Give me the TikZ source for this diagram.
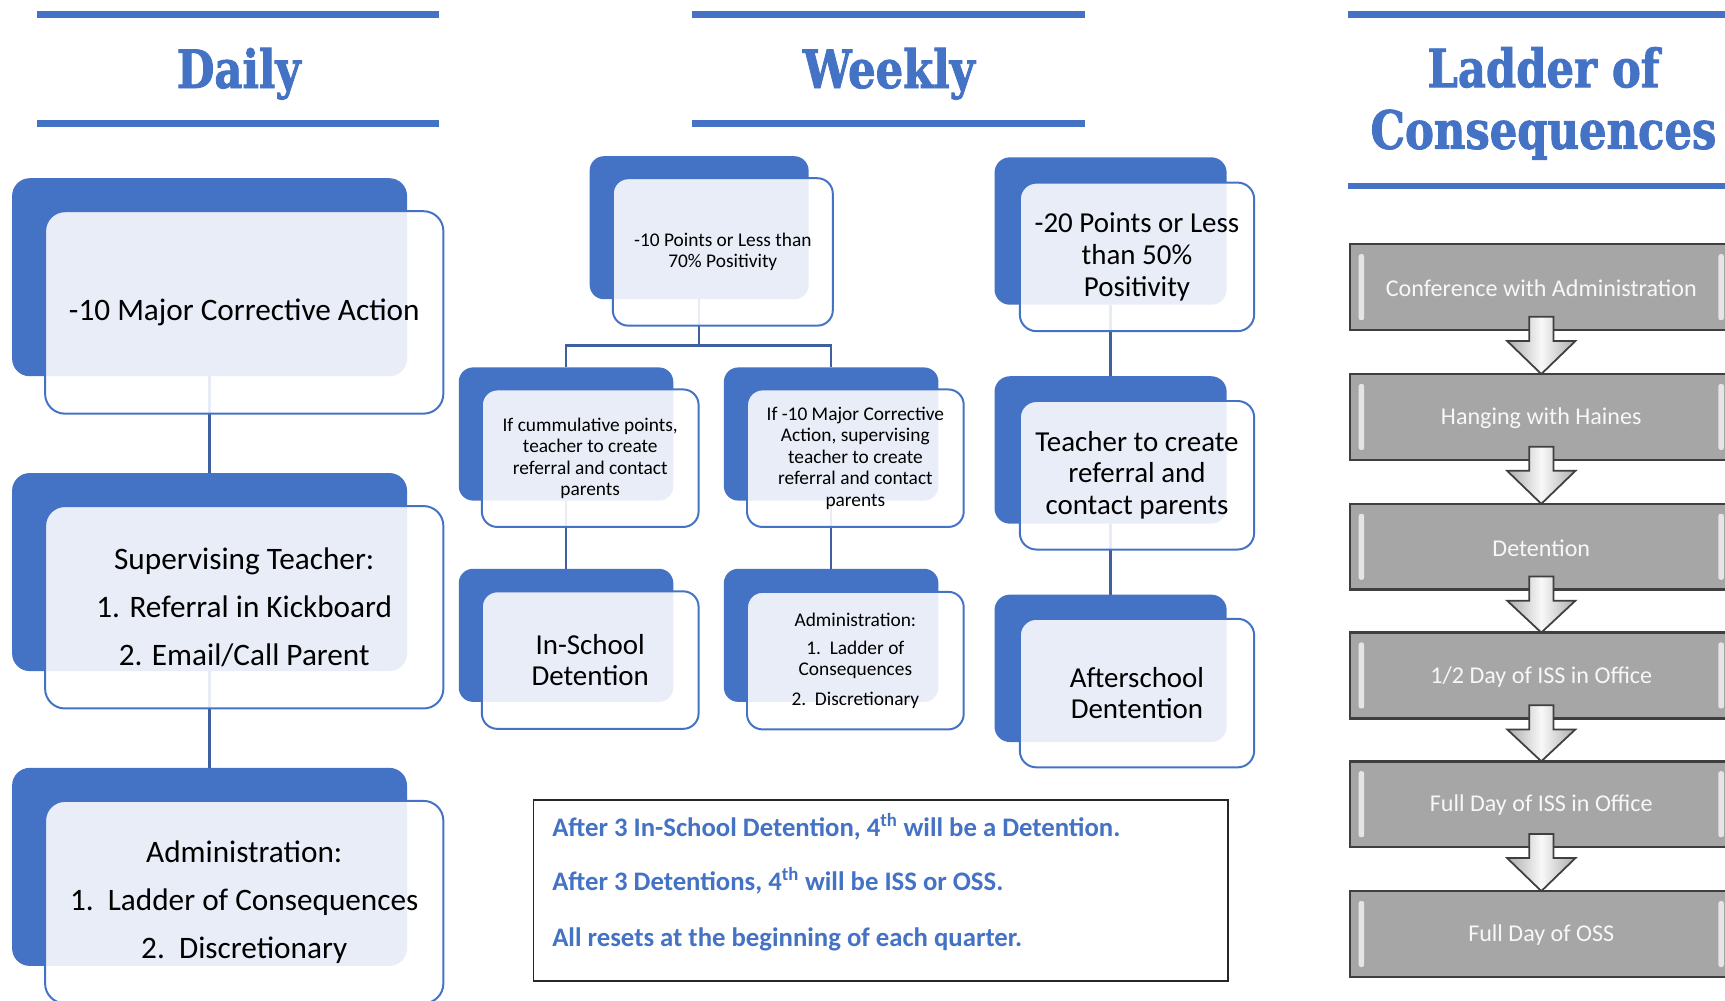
\documentclass[tikz,border=0pt]{standalone}
\usepackage{fontspec}
\setmainfont{Carlito}
\newfontfamily\titlefam[FakeStretch=0.82,FakeBold=1.6]{DejaVu Serif}
\usetikzlibrary{calc}
\definecolor{mblue}{HTML}{4472C4}
\definecolor{conn}{RGB}{62,95,160}
\definecolor{lgray}{HTML}{A6A6A6}
\definecolor{dgray}{HTML}{3F3F3F}
\newcommand\fntTitle{\titlefam\bfseries\fontsize{48pt}{56pt}\selectfont}
\newcommand\fntDaily{\fontsize{28.4pt}{43.5pt}\selectfont}
\newcommand\fntSmall{\fontsize{17.6pt}{19.5pt}\selectfont}
\newcommand\fntMid{\fontsize{26.3pt}{29pt}\selectfont}
\newcommand\fntNote{\fontsize{24.3pt}{28pt}\selectfont\bfseries}
\newcommand\fntLadder{\fontsize{21.9pt}{26pt}\selectfont}
\begin{document}
\begin{tikzpicture}[x=1pt,y=-1pt,
  every node/.style={outer sep=0pt,inner sep=0pt},
  back/.style n args={3}{fill=mblue,rounded corners=#3,minimum width=#1,minimum height=#2},
  front/.style n args={3}{draw=mblue,line width=1.8pt,fill=white,fill opacity=0.88,text opacity=1,
     rounded corners=#3,minimum width=#1,minimum height=#2,align=center,text=black},
  dback/.style={back={359pt}{180pt}{16pt}},
  dfront/.style={front={362pt}{184pt}{18pt},font=\fntDaily},
  wtopback/.style={back={199pt}{130pt}{13pt}},
  wtopfront/.style={front={200pt}{134pt}{14pt},font=\fntSmall},
  wback/.style={back={195pt}{121pt}{13pt}},
  wfront/.style={front={197pt}{125pt}{14pt},font=\fntSmall},
  rback/.style={back={211pt}{134pt}{14pt}},
  rfront/.style={front={213pt}{135pt}{15pt},font=\fntMid},
  link/.style={draw=conn,line width=2pt},
  titlebar/.style={draw=mblue,line width=6pt},
  title/.style={text=mblue,font=\fntTitle,align=center},
  ladder/.style={fill=lgray,draw=dgray,line width=2.2pt,minimum width=348pt,minimum height=78pt,
     text=white!94!gray,font=\fntLadder},
  bevel/.style={fill=white!80!gray,rounded corners=2pt},
  laddertext/.style={text=white!94!gray,font=\fntLadder},
  blockarrow/.style={draw=dgray,line width=1.6pt,left color=gray!65,right color=gray!65,middle color=gray!5},
  notetext/.style={text=mblue,font=\fntNote,anchor=base west}
]
\useasboundingbox (0,0) rectangle (1568,909);
\clip (0,0) rectangle (1568,909);
\fill[white] (0,0) rectangle (1568,909);

% ---------- titles ----------
\draw[titlebar] (34,13) -- (399,13);
\draw[titlebar] (34,112) -- (399,112);
\node[title,anchor=base] (tdaily) at (217,80) {Daily};
\draw[titlebar] (629,13) -- (986,13);
\draw[titlebar] (629,112) -- (986,112);
\node[title,anchor=base] (tweekly) at (808,80) {Weekly};
\draw[titlebar] (1225,13) -- (1568,13);
\draw[titlebar] (1225,169) -- (1568,169);
\node[title] (tladder) at (1403,94) {Ladder of\\Consequences};

% ---------- back boxes ----------
\node[dback] (d1b) at (190.5,252) {};
\node[dback] (d2b) at (190.5,520) {};
\node[dback] (d3b) at (190.5,788) {};
\node[wtopback] (w1b) at (635.5,207) {};
\node[wback] (w2b) at (514.5,394.5) {};
\node[wback] (w3b) at (755.5,394.5) {};
\node[wback] (w4b) at (514.5,577.5) {};
\node[wback] (w5b) at (755.5,577.5) {};
\node[rback] (r1b) at (1009.5,210) {};
\node[rback] (r2b) at (1009.5,409) {};
\node[rback] (r3b) at (1009.5,607.5) {};

% ---------- connectors ----------
\draw[link] (d1b.south) -- (d2b.north);
\draw[link] (d2b.south) -- (d3b.north);
\draw[link] (w1b.south) -- ++(0,42) -| (w2b.north);
\draw[link] (w1b.south) -- ++(0,42) -| (w3b.north);
\draw[link] (w2b.south) -- (w4b.north);
\draw[link] (w3b.south) -- (w5b.north);
\draw[link] (r1b.south) -- (r2b.north);
\draw[link] (r2b.south) -- (r3b.north);

% ---------- front boxes ----------
\node[dfront] (d1f) at (222,284) {-10 Major Corrective Action};
\node[dfront] (d2f) at (222,552) {Supervising Teacher:\\1. Referral in Kickboard\\2. Email/Call Parent};
\node[dfront] (d3f) at (222,820) {Administration:\\1.~~Ladder of Consequences\\2.~~Discretionary};

\node[wtopfront] (w1f) at (657,229) {-10 Points or Less than\\70\% Positivity};
\node[wfront] (w2f) at (536.5,416.5) {If cummulative points,\\teacher to create\\referral and contact\\parents};
\node[wfront] (w3f) at (777.5,416.5) {If -10 Major Corrective\\Action, supervising\\teacher to create\\referral and contact\\parents};
\node[wfront,font=\fntMid] (w4f) at (536.5,600) {In-School\\Detention};
\node[wfront] (w5f) at (777.5,600.5) {Administration:\\[6pt]1.~~Ladder of\\Consequences\\[7pt]2.~~Discretionary};

\node[rfront] (r1f) at (1033.5,233.5) {-20 Points or Less\\than 50\%\\Positivity};
\node[rfront] (r2f) at (1033.5,432) {Teacher to create\\referral and\\contact parents};
\node[rfront] (r3f) at (1033.5,630) {Afterschool\\Dentention};

% ---------- note ----------
\node[draw=black!85,line width=1.6pt,minimum width=631pt,minimum height=165pt] (note) at (800.5,809.5) {};
\node[notetext] (n1) at (502,760) {After 3 In-School Detention, 4\textsuperscript{th} will be a Detention.};
\node[notetext] (n2) at (502,809) {After 3 Detentions, 4\textsuperscript{th} will be ISS or OSS.};
\node[notetext] (n3) at (502,860) {All resets at the beginning of each quarter.};

% ---------- ladder ----------
\node[ladder] (L1) at (1401,261) {};
\node[ladder] (L2) at (1401,379) {};
\node[ladder] (L3) at (1401,497) {};
\node[ladder] (L4) at (1401,614) {};
\node[ladder] (L5) at (1401,731) {};
\node[ladder] (L6) at (1401,849) {};
\foreach \n in {L1,L2,L3,L4,L5,L6}{
  \fill[bevel] ($(\n.north west)+(8,9)$) rectangle ($(\n.south west)+(13,-9)$);
  \fill[bevel] ($(\n.north east)+(-13,9)$) rectangle ($(\n.south east)+(-8,-9)$);
}
\node[laddertext] (L1t) at ($(L1)+(0,1)$) {Conference with Administration};
\node[laddertext] (L2t) at ($(L2)+(0,1)$) {Hanging with Haines};
\node[laddertext] (L3t) at ($(L3)+(0,1)$) {Detention};
\node[laddertext] (L4t) at ($(L4)+(0,1)$) {1/2 Day of ISS in Office};
\node[laddertext] (L5t) at ($(L5)+(0,1)$) {Full Day of ISS in Office};
\node[laddertext] (L6t) at ($(L6)+(0,1)$) {Full Day of OSS};
\foreach \a/\b in {L1/L2,L2/L3,L3/L4,L4/L5,L5/L6}{
  \draw[blockarrow] ($(\a.south)+(-11,-12)$) -- ($(\a.south)+(11,-12)$) -- ($(\a.south)+(11,10)$)
     -- ($(\a.south)+(31,10)$) -- (\b.north) -- ($(\a.south)+(-31,10)$) -- ($(\a.south)+(-11,10)$) -- cycle;
}
\end{tikzpicture}
\end{document}
